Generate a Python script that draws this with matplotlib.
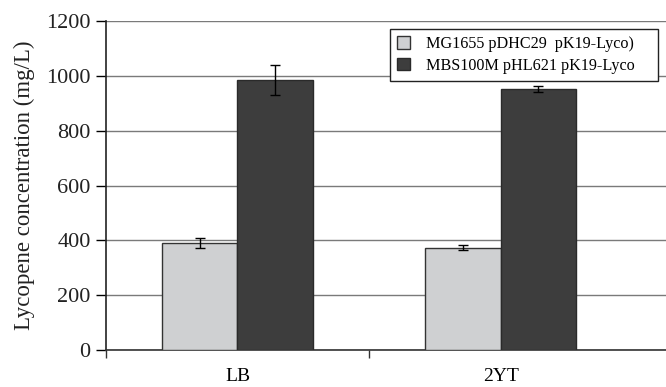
import matplotlib
matplotlib.use("Agg")
import matplotlib.pyplot as plt
import numpy as np

categories = ["LB", "2YT"]
series_names = ["MG1655 pDHC29  pK19-Lyco)", "MBS100M pHL621 pK19-Lyco"]
light_vals = [390, 373]
light_err = [17, 10]
dark_vals = [985, 951]
dark_err = [56, 11]
yticks = [0, 200, 400, 600, 800, 1000, 1200]

plt.rcParams['font.family'] = ['Liberation Serif', 'DejaVu Serif']

fig = plt.figure(figsize=(6.66, 3.87), dpi=100)
ax = fig.add_axes([0.159, 0.0956, 0.841 + 0.01, 0.8501])

x = np.arange(len(categories))
w = 0.287
ekw = dict(ecolor='black', elinewidth=1.0, capsize=3.5, capthick=1.0)
ax.bar(x - w/2, light_vals, w, yerr=light_err, color='#cfd0d2', edgecolor='#333333',
       linewidth=1.0, label=series_names[0], error_kw=ekw, zorder=3)
ax.bar(x + w/2, dark_vals, w, yerr=dark_err, color='#3d3d3d', edgecolor='#2a2a2a',
       linewidth=1.0, label=series_names[1], error_kw=ekw, zorder=3)

ax.set_ylim(0, 1200)
ax.set_yticks(yticks)
ax.set_xlim(-0.5, 1.654)
ax.set_xticks([-0.5, 0.5])
ax.set_xticklabels([])
ax.set_xticks(x, minor=True)
ax.set_xticklabels(categories, minor=True)
ax.tick_params(axis='x', which='minor', length=0, pad=13, labelsize=14)
ax.tick_params(axis='x', which='major', length=6, direction='out', width=1, color='#333333')
ax.tick_params(axis='y', length=7, direction='out', width=1, labelsize=16, pad=4,
               labelcolor='#222222')

ax.yaxis.grid(True, color='#7a7a7a', linewidth=1.0, zorder=0)
ax.set_axisbelow(True)
for s in ['top', 'right']:
    ax.spines[s].set_visible(False)
ax.spines['left'].set_color('#222222')
ax.spines['left'].set_linewidth(1.2)
ax.spines['bottom'].set_color('#333333')
ax.spines['bottom'].set_linewidth(1.2)

ax.set_ylabel("Lycopene concentration (mg/L)", fontsize=16.5, labelpad=8, color='#222222')

leg = ax.legend(loc='upper left', bbox_to_anchor=(0.501, 0.0, 0.473, 0.976), mode='expand',
                fontsize=11.6,
                frameon=True, fancybox=False, edgecolor='#222222', framealpha=1,
                handlelength=0.8, handleheight=0.8, handletextpad=1.0,
                borderpad=0.45, labelspacing=0.35, borderaxespad=0)
leg.get_frame().set_linewidth(1.0)
leg.set_zorder(5)

fig.savefig("out.png", dpi=100)
